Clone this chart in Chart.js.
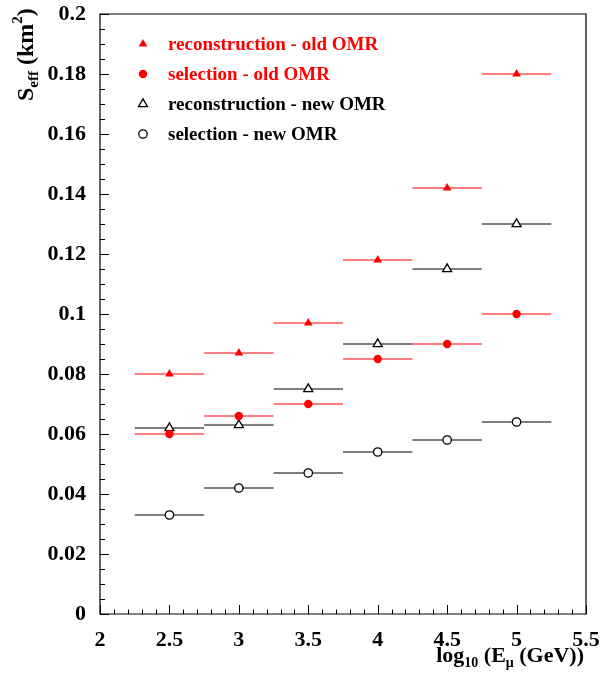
<!DOCTYPE html>
<html>
<head>
<meta charset="utf-8">
<script src="https://cdn.jsdelivr.net/npm/chart.js@4.4.1/dist/chart.umd.min.js"></script>
<style>
  html, body { margin: 0; padding: 0; background: #fff; }
  #wrap { width: 602px; height: 684px; }
</style>
</head>
<body>
<div id="wrap"><canvas id="chart" width="602" height="684"></canvas></div>
<script>
// ─── Data ────────────────────────────────────────────────────
const xCenters     = [2.5, 3, 3.5, 4, 4.5, 5];   // log10(E_mu / GeV) bin centres
const binHalfWidth = 0.25;
const recoOld = [0.080, 0.087, 0.097, 0.118, 0.142, 0.180];
const selOld  = [0.060, 0.066, 0.070, 0.085, 0.090, 0.100];
const recoNew = [0.062, 0.063, 0.075, 0.090, 0.115, 0.130];
const selNew  = [0.033, 0.042, 0.047, 0.054, 0.058, 0.064];

const seriesLabels = [
  'reconstruction - old OMR',
  'selection - old OMR',
  'reconstruction - new OMR',
  'selection - new OMR',
];

const FONT = '"Liberation Serif", "Times New Roman", serif';
const RED = '#ff0000';
const BLACK = '#000000';

// ─── Series styling ──────────────────────────────────────────
const series = [
  { label: seriesLabels[0], values: recoOld, color: RED,   style: 'triangle', fill: RED,    radius: 5.0 },
  { label: seriesLabels[1], values: selOld,  color: RED,   style: 'circle',   fill: RED,    radius: 4.2 },
  { label: seriesLabels[2], values: recoNew, color: BLACK, style: 'triangle', fill: '#fff', radius: 5.2 },
  { label: seriesLabels[3], values: selNew,  color: BLACK, style: 'circle',   fill: '#fff', radius: 4.2 },
];

function barSegments(values) {
  const pts = [];
  values.forEach((v, i) => {
    pts.push({ x: xCenters[i] - binHalfWidth, y: v });
    pts.push({ x: xCenters[i] + binHalfWidth, y: v });
    pts.push({ x: xCenters[i] + binHalfWidth, y: null });
  });
  return pts;
}

const datasets = [];
series.forEach((s) => {
  datasets.push({
    label: s.label + ' bins',
    data: barSegments(s.values),
    showLine: true,
    spanGaps: false,
    borderColor: s.color,
    borderWidth: 1.2,
    pointRadius: 0,
    order: 10,
  });
});
series.forEach((s) => {
  datasets.push({
    label: s.label,
    data: s.values.map((v, i) => ({ x: xCenters[i], y: v })),
    showLine: false,
    pointStyle: s.style,
    pointRadius: s.radius,
    pointHoverRadius: s.radius,
    pointBackgroundColor: s.fill,
    pointBorderColor: s.color,
    pointBorderWidth: s.fill === '#fff' ? 1.3 : 0,
    order: 0,
  });
});

// ─── Frame, inward ticks, titles and legend ──────────────────
const decorPlugin = {
  id: 'decor',
  afterDraw(chart) {
    const { ctx, chartArea: a, scales } = chart;
    const xs = scales.x, ys = scales.y;
    ctx.save();

    // frame
    ctx.strokeStyle = BLACK;
    ctx.lineWidth = 1.2;
    ctx.beginPath();
    ctx.moveTo(a.left, a.top); ctx.lineTo(a.right, a.top);
    ctx.lineTo(a.right, a.bottom); ctx.lineTo(a.left, a.bottom);
    ctx.closePath();
    ctx.stroke();

    // y ticks: major 0.02, minor 0.005
    ctx.lineWidth = 1;
    ctx.beginPath();
    for (let k = 0; k <= 40; k++) {
      const py = Math.round(ys.getPixelForValue(k * 0.005)) + 0.5;
      const len = k % 4 === 0 ? 9 : 5;
      ctx.moveTo(a.left, py); ctx.lineTo(a.left + len, py);
    }
    // x ticks: major 0.5, minor 0.1
    for (let k = 0; k <= 35; k++) {
      const px = Math.round(xs.getPixelForValue(2 + k * 0.1)) + 0.5;
      const len = k % 5 === 0 ? 9 : 4.5;
      ctx.moveTo(px, a.bottom); ctx.lineTo(px, a.bottom - len);
    }
    ctx.stroke();

    // x title: log10 (Eμ (GeV))
    ctx.fillStyle = BLACK;
    ctx.textBaseline = 'alphabetic';
    const big = 'bold 22px ' + FONT, small = 'bold 14px ' + FONT;
    const xParts = [
      { t: 'log', f: big, dy: 0 },
      { t: '10', f: small, dy: 5 },
      { t: ' (E', f: big, dy: 0 },
      { t: 'μ', f: small, dy: 5 },
      { t: ' (GeV))', f: big, dy: 0 },
    ];
    let total = 0;
    xParts.forEach((p) => { ctx.font = p.f; total += ctx.measureText(p.t).width; });
    let cx = 584 - total;
    xParts.forEach((p) => {
      ctx.font = p.f;
      ctx.fillText(p.t, cx, 662 + p.dy);
      cx += ctx.measureText(p.t).width;
    });

    // y title: S_eff (km^2), rotated
    ctx.save();
    ctx.translate(33, 101);
    ctx.rotate(-Math.PI / 2);
    const yParts = [
      { t: 'S', f: 'bold 24px ' + FONT, dy: 0 },
      { t: 'eff', f: 'bold 15px ' + FONT, dy: 5 },
      { t: ' (km', f: 'bold 24px ' + FONT, dy: 0 },
      { t: '2', f: 'bold 15px ' + FONT, dy: -11 },
      { t: ')', f: 'bold 24px ' + FONT, dy: 0 },
    ];
    let cy = 0;
    yParts.forEach((p) => {
      ctx.font = p.f;
      ctx.fillText(p.t, cy, p.dy);
      cy += ctx.measureText(p.t).width;
    });
    ctx.restore();

    // legend
    const rows = [44, 74, 104, 134];
    series.forEach((s, i) => {
      ctx.fillStyle = s.fill;
      ctx.strokeStyle = s.color;
      ctx.lineWidth = s.fill === '#fff' ? 1.3 : 0;
      Chart.helpers.drawPoint(ctx, {
        pointStyle: s.style, radius: s.radius, rotation: 0,
        borderWidth: s.fill === '#fff' ? 1.3 : 0,
      }, 143, rows[i]);
      ctx.fillStyle = s.color;
      ctx.font = 'bold 19px ' + FONT;
      ctx.textBaseline = 'middle';
      ctx.fillText(s.label, 168, rows[i] + 1);
    });

    ctx.restore();
  },
};

const fmt = (v) => String(+v.toFixed(3));

new Chart(document.getElementById('chart'), {
  type: 'scatter',
  data: { datasets },
  options: {
    responsive: false,
    animation: false,
    devicePixelRatio: 1,
    layout: { padding: { top: 14, right: 16, left: 0, bottom: 0 } },
    plugins: { legend: { display: false }, tooltip: { enabled: false } },
    scales: {
      x: {
        type: 'linear', min: 2, max: 5.5,
        grid: { display: false, drawTicks: false },
        border: { display: false },
        ticks: {
          stepSize: 0.5, padding: 13, color: BLACK,
          font: { family: FONT, size: 22, weight: 'bold' },
          callback: fmt, maxRotation: 0, autoSkip: false,
        },
        afterFit: (s) => { s.height = 70; s.paddingLeft = 0; s.paddingRight = 0; },
      },
      y: {
        type: 'linear', min: 0, max: 0.2,
        grid: { display: false, drawTicks: false },
        border: { display: false },
        ticks: {
          stepSize: 0.02, padding: 14, color: BLACK,
          font: { family: FONT, size: 22, weight: 'bold' },
          callback: fmt, autoSkip: false,
        },
        afterFit: (s) => { s.width = 100; s.paddingTop = 0; s.paddingBottom = 0; },
      },
    },
  },
  plugins: [decorPlugin],
});
</script>
</body>
</html>
